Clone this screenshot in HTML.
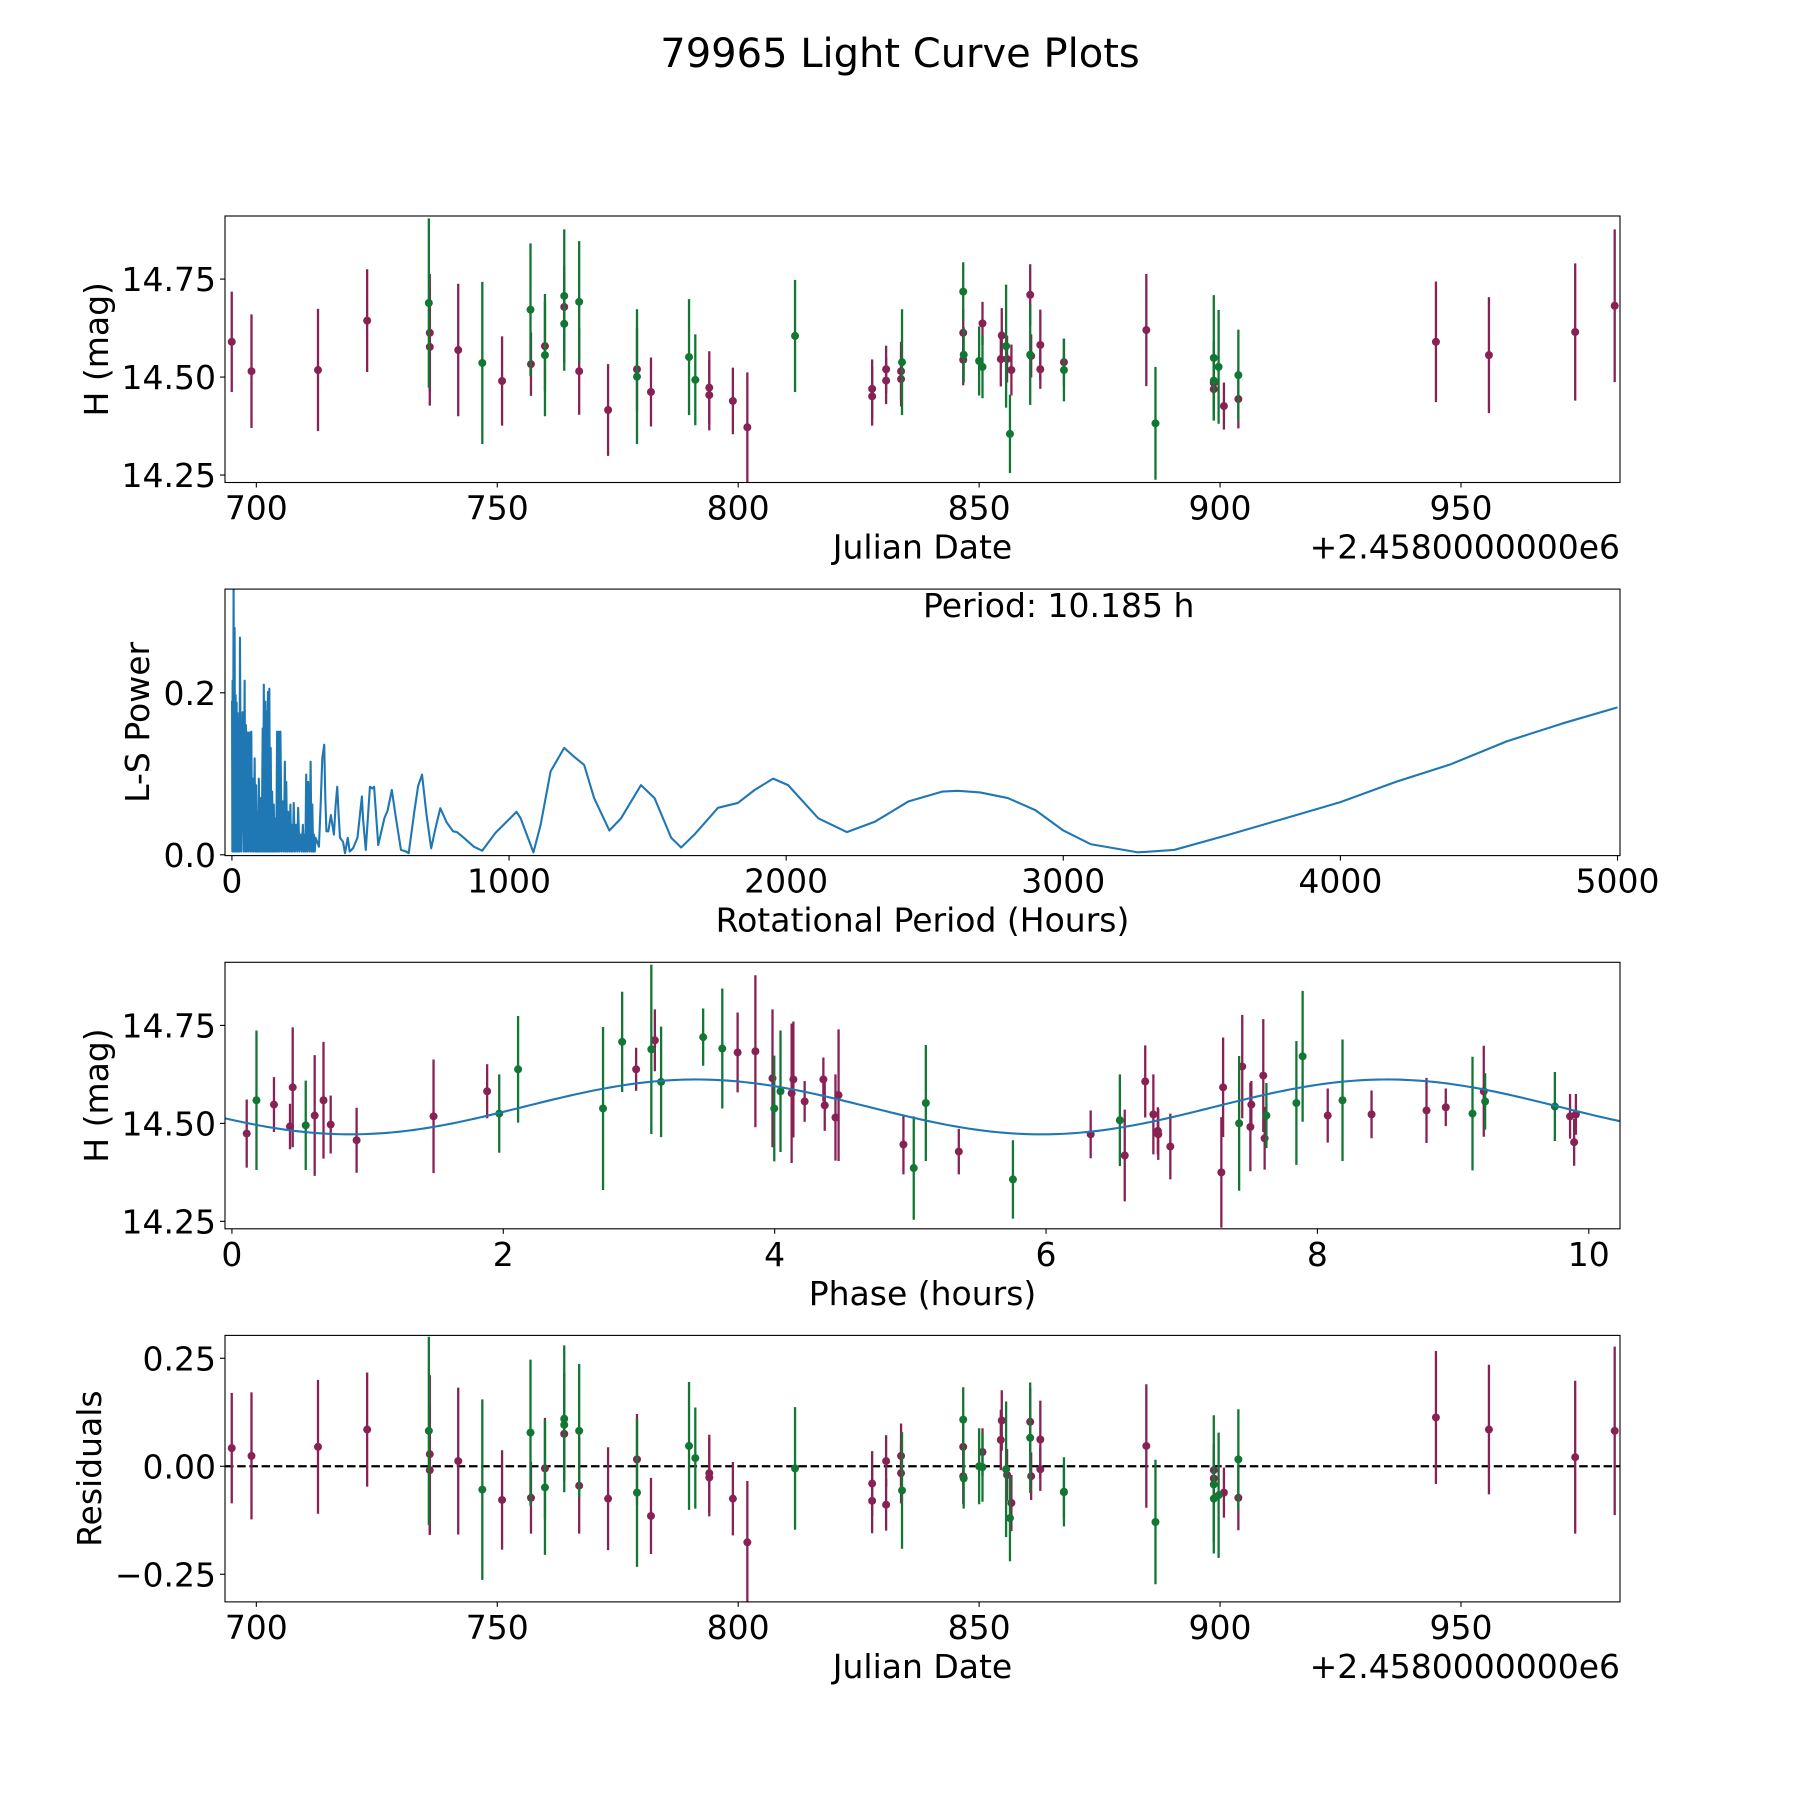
<!DOCTYPE html>
<html><head><meta charset="utf-8"><title>79965 Light Curve Plots</title>
<style>
html,body{margin:0;padding:0;background:#fff;}
svg{display:block;font-family:"DejaVu Sans","Liberation Sans",sans-serif;}
</style></head>
<body>
<svg id="fig" width="1800" height="1800" viewBox="0 0 1800 1800" xmlns="http://www.w3.org/2000/svg">
<rect width="1800" height="1800" fill="#fff"/>
<text x="900" y="67" text-anchor="middle" font-size="40">79965 Light Curve Plots</text>
</svg>
<script>
// ---------- Panel 1: light curve vs Julian Date ----------
const p1Band = ["M","M","M","M","G","M","M","M","G","M","G","M","M","G","G","M","G","G","M","M","M","G","M","G","G","M","M","M","M","G","M","M","M","M","M","M","G","G","M","G","M","G","M","G","M","M","G","M","G","M","M","G","M","M","M","M","G","M","G","G","G","M","M","G","M","G","M","M","M","M","M"];
const p1Day = [694.9,699.0,712.8,723.0,735.8,736.0,736.0,741.9,746.9,751.0,756.9,757.0,759.9,759.9,763.9,763.9,763.9,767.0,767.0,773.0,779.0,779.0,781.9,789.8,791.1,794.0,794.0,798.9,801.9,811.8,827.8,827.8,830.7,830.7,833.8,833.8,834.0,846.7,846.7,846.8,846.7,850.0,850.7,850.7,854.7,854.5,855.6,855.8,856.4,856.7,860.6,860.6,860.8,862.7,862.7,867.6,867.6,884.7,886.6,898.7,898.7,898.7,898.7,899.7,900.8,903.8,903.8,944.8,955.8,973.7,981.9];
const p1Mag = [14.590,14.515,14.518,14.644,14.689,14.613,14.577,14.569,14.536,14.490,14.672,14.533,14.579,14.556,14.707,14.679,14.636,14.692,14.515,14.416,14.520,14.501,14.462,14.551,14.493,14.473,14.454,14.439,14.372,14.605,14.470,14.451,14.520,14.491,14.515,14.495,14.538,14.718,14.613,14.557,14.544,14.541,14.637,14.526,14.606,14.546,14.579,14.546,14.355,14.518,14.710,14.557,14.554,14.582,14.520,14.538,14.518,14.620,14.382,14.549,14.491,14.485,14.469,14.526,14.426,14.505,14.444,14.590,14.556,14.615,14.682];
const p1Err = [0.128,0.145,0.156,0.131,0.216,0.15,0.15,0.169,0.207,0.114,0.169,0.081,0.115,0.156,0.17,0.105,0.12,0.155,0.111,0.117,0.105,0.172,0.088,0.148,0.116,0.093,0.09,0.085,0.14,0.143,0.075,0.075,0.06,0.06,0.075,0.07,0.135,0.075,0.06,0.07,0.065,0.088,0.055,0.08,0.07,0.07,0.157,0.06,0.1,0.065,0.078,0.128,0.055,0.09,0.05,0.06,0.08,0.143,0.144,0.16,0.1,0.06,0.06,0.145,0.06,0.116,0.075,0.154,0.148,0.175,0.195];
const jdTicks = [700,750,800,850,900,950];
const magTicks = [14.25,14.50,14.75];
const magTickLabels = ["14.25","14.50","14.75"];

// ---------- Panel 2: Lomb-Scargle periodogram ----------
const lsPeriod = [0.5,1.5,2.4,4,6,8,9.7,11.5,13.3,15,16.9,18.7,20.5,23,25.4,27.2,29,33,38.6,42,45.9,48.3,50.7,53,55.5,59,62.8,66.4,70,72.5,75,78.5,82,84.5,87,90,93,95,97,100.5,104,107.5,111,113,115,118,121,123,125,127.5,130,132.5,135,137.5,140,142.5,145,148,151,154,157,160,163,166,169,172,175,179.5,184,187.5,191,193.5,196,199.5,203,207,211,214,217,220,223,227.5,232,235.5,239,243.5,248,252,256,259,262,265,268,271.5,275,279.5,284,287,290,293,296,299,302,314,320,326,333,337,341,348,357,368,374,380,385,390,401,408,418,425,437,453,469,473,483,498,507,513,528,550,562,577,592,610,628,638,658,672,686,702,719,736,752,775,798,812,840,873,903,951,1027,1042,1088,1114,1150,1199,1235,1271,1307,1362,1404,1476,1525,1585,1621,1669,1754,1826,1886,1953,2007,2116,2219,2321,2442,2563,2620,2700,2800,2900,3000,3100,3270,3400,3600,3800,4000,4200,4400,4600,4800,5000];
const lsPower = [0.19,0.004,0.215,0.004,0.34,0.004,0.28,0.004,0.197,0.004,0.188,0.004,0.175,0.004,0.168,0.004,0.268,0.004,0.176,0.004,0.215,0.004,0.16,0.004,0.151,0.004,0.151,0.004,0.152,0.004,0.094,0.004,0.119,0.004,0.086,0.004,0.053,0.004,0.094,0.004,0.07,0.004,0.156,0.004,0.21,0.004,0.189,0.004,0.177,0.004,0.201,0.004,0.205,0.004,0.132,0.004,0.078,0.004,0.062,0.004,0.045,0.004,0.152,0.004,0.152,0.004,0.152,0.004,0.066,0.004,0.115,0.004,0.09,0.004,0.053,0.004,0.062,0.004,0.037,0.004,0.064,0.004,0.037,0.004,0.058,0.004,0.025,0.004,0.037,0.004,0.025,0.004,0.099,0.004,0.09,0.004,0.115,0.004,0.062,0.004,0.025,0.004,0.021,0.01,0.06,0.119,0.136,0.07,0.029,0.029,0.049,0.025,0.06,0.084,0.05,0.021,0.016,0.002,0.021,0.004,0.008,0.021,0.072,0.045,0.006,0.084,0.082,0.084,0.012,0.045,0.055,0.08,0.045,0.006,0.004,0.002,0.053,0.085,0.099,0.05,0.008,0.035,0.0575,0.04,0.029,0.028,0.02,0.010,0.005,0.027,0.053,0.045,0.003,0.037,0.103,0.132,0.121,0.111,0.070,0.030,0.045,0.086,0.070,0.021,0.009,0.025,0.058,0.064,0.080,0.094,0.086,0.045,0.028,0.041,0.066,0.078,0.079,0.077,0.070,0.055,0.030,0.013,0.003,0.006,0.025,0.045,0.065,0.090,0.112,0.140,0.162,0.182];
const periodTicks = [0,1000,2000,3000,4000,5000];
const powerTicks = [0.0,0.2];
const powerTickLabels = ["0.0","0.2"];
const bestPeriodLabel = "Period: 10.185 h";

// ---------- Panel 3: phased light curve ----------
const p3Band = ["M","G","M","M","M","G","M","M","M","M","M","M","G","G","G","G","M","G","M","G","G","G","M","M","M","G","G","M","M","M","M","M","M","M","M","G","G","M","G","M","G","M","M","M","M","M","M","M","M","G","M","M","M","M","M","G","G","G","M","G","M","M","M","G","M","G","G","M","M","M"];
const p3Phase = [0.109,0.181,0.310,0.428,0.448,0.544,0.610,0.675,0.728,0.919,1.486,1.881,1.970,2.109,2.735,2.876,2.979,3.091,3.117,3.163,3.473,3.614,3.727,3.858,3.984,3.997,4.043,4.125,4.138,4.221,4.359,4.369,4.448,4.471,4.949,5.025,5.114,5.357,5.756,6.329,6.544,6.580,6.731,6.791,6.824,6.827,6.916,7.292,7.305,7.423,7.446,7.506,7.513,7.601,7.611,7.624,7.845,7.891,8.076,8.185,8.399,8.804,8.946,9.143,9.226,9.236,9.750,9.862,9.892,9.905];
const p3Mag = [14.474,14.559,14.548,14.492,14.592,14.495,14.520,14.559,14.497,14.457,14.518,14.582,14.525,14.638,14.538,14.708,14.638,14.689,14.712,14.606,14.720,14.691,14.681,14.684,14.615,14.538,14.582,14.577,14.612,14.556,14.612,14.546,14.515,14.572,14.446,14.386,14.552,14.428,14.357,14.472,14.508,14.418,14.607,14.523,14.481,14.472,14.441,14.375,14.592,14.500,14.645,14.491,14.548,14.622,14.462,14.520,14.552,14.671,14.520,14.559,14.523,14.533,14.541,14.525,14.582,14.556,14.543,14.518,14.452,14.523];
const p3Err = [0.087,0.178,0.07,0.058,0.153,0.114,0.154,0.149,0.074,0.083,0.145,0.069,0.1,0.136,0.208,0.128,0.055,0.216,0.079,0.141,0.073,0.153,0.102,0.194,0.176,0.135,0.155,0.178,0.148,0.052,0.056,0.065,0.11,0.168,0.076,0.132,0.148,0.058,0.1,0.061,0.117,0.117,0.092,0.102,0.06,0.065,0.084,0.141,0.127,0.172,0.132,0.113,0.06,0.144,0.08,0.083,0.158,0.167,0.069,0.155,0.061,0.083,0.048,0.145,0.116,0.072,0.088,0.057,0.06,0.052];
const fitMean = 14.542;
const fitAmp = 0.070;
const fitPeakPhase = 3.42;
const fitPeriod = 10.185;
const phaseTicks = [0,2,4,6,8,10];

// ---------- Panel 4: residuals ----------
const p4Band = ["M","M","M","M","G","M","M","M","G","M","G","M","M","G","G","G","M","G","M","M","M","G","M","G","G","M","M","M","M","G","M","M","M","M","M","M","G","G","M","M","G","G","M","G","M","M","G","M","G","M","M","G","M","M","M","M","G","M","G","M","M","G","G","G","M","G","M","M","M","M","M"];
const p4Day = [694.9,699.0,712.8,723.0,735.8,736.0,736.0,741.9,746.9,751.0,756.9,757.0,759.9,759.9,763.9,763.9,763.9,767.0,767.0,773.0,779.0,779.0,781.9,789.8,791.1,794.0,794.0,798.9,801.9,811.8,827.8,827.8,830.7,830.7,833.8,833.8,834.0,846.7,846.7,846.7,846.8,850.0,850.7,850.7,854.7,854.5,855.6,855.8,856.4,856.7,860.6,860.6,860.8,862.7,862.7,867.6,867.6,884.7,886.6,898.7,898.7,898.7,898.7,899.7,900.8,903.8,903.8,944.8,955.8,973.7,981.9];
const p4Res = [0.042,0.024,0.045,0.085,0.082,0.028,-0.009,0.012,-0.054,-0.078,0.078,-0.073,-0.005,-0.049,0.110,0.096,0.075,0.082,-0.045,-0.075,0.016,-0.061,-0.115,0.047,0.019,-0.016,-0.026,-0.075,-0.176,-0.005,-0.040,-0.080,0.012,-0.089,0.024,-0.016,-0.056,0.108,0.045,-0.023,-0.028,0.0,0.033,-0.002,0.106,0.061,-0.007,-0.020,-0.120,-0.085,0.103,0.066,-0.023,0.062,-0.007,-0.060,-0.059,0.047,-0.129,-0.009,-0.028,-0.042,-0.075,-0.067,-0.061,0.016,-0.073,0.113,0.085,0.021,0.082];
const p4Err = [0.128,0.147,0.155,0.132,0.218,0.183,0.15,0.17,0.209,0.115,0.169,0.083,0.117,0.156,0.17,0.12,0.11,0.155,0.111,0.119,0.105,0.172,0.088,0.148,0.117,0.089,0.09,0.085,0.142,0.142,0.075,0.075,0.06,0.06,0.075,0.07,0.135,0.075,0.06,0.065,0.07,0.088,0.055,0.08,0.07,0.07,0.157,0.06,0.1,0.065,0.078,0.128,0.055,0.09,0.05,0.06,0.08,0.143,0.144,0.06,0.06,0.16,0.1,0.145,0.058,0.116,0.075,0.154,0.15,0.177,0.195];
const resTicks = [-0.25,0.0,0.25];
const resTickLabels = ["\u22120.25","0.00","0.25"];

// ---------- drawing ----------
const NS = "http://www.w3.org/2000/svg";
const svg = document.getElementById("fig");
const COLORS = {M:"#882255", G:"#117733"};
const AX_L = 225, AX_R = 1620;
const panels = [[216,482.5],[589.1,855.6],[962.3,1228.8],[1335.4,1601.9]];
const FS = 33;

function mk(tag, attrs, parent){
  const e = document.createElementNS(NS, tag);
  for (const k in attrs) e.setAttribute(k, attrs[k]);
  (parent||svg).appendChild(e);
  return e;
}
function lin(d0,d1,r0,r1){ return v => r0 + (v-d0)/(d1-d0)*(r1-r0); }

function makeAxes(idx, name, xdom, ydom){
  const [top,bot] = panels[idx];
  const g = mk("g",{});
  
  
  const clip = mk("clipPath",{id:"clip"+idx}, g);
  mk("rect",{x:AX_L,y:top,width:AX_R-AX_L,height:bot-top}, clip);
  const plot = mk("g",{"clip-path":"url(#clip"+idx+")"}, g);
  
  
  return {g, plot, top, bot, x: lin(xdom[0],xdom[1],AX_L,AX_R), y: lin(ydom[0],ydom[1],bot,top)};
}
function frame(ax){
  const r = mk("rect",{x:AX_L,y:ax.top,width:AX_R-AX_L,height:ax.bot-ax.top,fill:"none",stroke:"#000","stroke-width":1.1}, ax.g);
  
  
}
function xTicks(ax, vals, labels, name){
  vals.forEach((v,i)=>{
    const X = ax.x(v);
    mk("line",{x1:X,x2:X,y1:ax.bot,y2:ax.bot+5,stroke:"#000","stroke-width":1.1}, ax.g);
    const t = mk("text",{x:X,y:ax.bot+37,"text-anchor":"middle","font-size":FS}, ax.g);
    t.textContent = labels ? labels[i] : String(v);
    
    
  });
}
function yTicks(ax, vals, labels, name){
  vals.forEach((v,i)=>{
    const Y = ax.y(v);
    mk("line",{x1:AX_L-5,x2:AX_L,y1:Y,y2:Y,stroke:"#000","stroke-width":1.1}, ax.g);
    const t = mk("text",{x:AX_L-9,y:Y+12,"text-anchor":"end","font-size":FS}, ax.g);
    t.textContent = labels[i];
    
    
  });
}
function xLabel(ax, txt, name){
  const t = mk("text",{x:(AX_L+AX_R)/2,y:ax.bot+76,"text-anchor":"middle","font-size":FS}, ax.g);
  t.textContent = txt;
  
  
}
function yLabel(ax, txt, cx, name){
  const cy = (ax.top+ax.bot)/2;
  const t = mk("text",{x:cx,y:cy,"text-anchor":"middle","font-size":FS,transform:"rotate(-90 "+cx+" "+cy+")"}, ax.g);
  t.textContent = txt;
  
  
}
function offsetText(ax){
  const t = mk("text",{x:AX_R,y:ax.bot+76,"text-anchor":"end","font-size":FS}, ax.g);
  t.textContent = "+2.4580000000e6";
  
  
}
function errPoints(ax, xs, ys, es, bands, name){
  ["M","G"].forEach(b=>{
    xs.forEach((xv,i)=>{
      if (bands[i] !== b) return;
      const X = ax.x(xv);
      const l = mk("line",{x1:X,x2:X,y1:ax.y(ys[i]-es[i]),y2:ax.y(ys[i]+es[i]),stroke:COLORS[b],"stroke-width":2.3}, ax.plot);
      
      
      const c = mk("circle",{cx:X,cy:ax.y(ys[i]),r:4,fill:COLORS[b]}, ax.plot);
      
      
    });
  });
}

// Panel 1
const ax1 = makeAxes(0, "light-curve-panel", [693.5,983.0], [14.231,14.911]);
errPoints(ax1, p1Day, p1Mag, p1Err, p1Band, "observation");
frame(ax1);
xTicks(ax1, jdTicks, null, "julian-date");
yTicks(ax1, magTicks, magTickLabels, "magnitude");
xLabel(ax1, "Julian Date", "x-axis-title-julian-date");
offsetText(ax1);
yLabel(ax1, "H (mag)", 108, "y-axis-title-magnitude");

// Panel 2
const ax2 = makeAxes(1, "periodogram-panel", [-25,5009], [-0.001,0.328]);
const pts = lsPeriod.map((p,i)=> ax2.x(p).toFixed(2)+","+ax2.y(lsPower[i]).toFixed(2)).join(" ");
const pl = mk("polyline",{points:pts,fill:"none",stroke:"#1f77b4","stroke-width":2.1,"stroke-linejoin":"round"}, ax2.plot);


frame(ax2);
xTicks(ax2, periodTicks, null, "period");
yTicks(ax2, powerTicks, powerTickLabels, "power");
xLabel(ax2, "Rotational Period (Hours)", "x-axis-title-period");
yLabel(ax2, "L-S Power", 149, "y-axis-title-power");
const pt = mk("text",{x:923,y:617,"font-size":FS}, ax2.g);
pt.textContent = bestPeriodLabel;



// Panel 3
const ax3 = makeAxes(2, "phased-curve-panel", [-0.051,10.23], [14.231,14.911]);
errPoints(ax3, p3Phase, p3Mag, p3Err, p3Band, "phased");
const fitPts = [];
for (let k=0;k<=300;k++){
  const ph = -0.051 + k*(10.23+0.051)/300;
  const m = fitMean + fitAmp*Math.cos(4*Math.PI*(ph-fitPeakPhase)/fitPeriod);
  fitPts.push(ax3.x(ph).toFixed(2)+","+ax3.y(m).toFixed(2));
}
const fl = mk("polyline",{points:fitPts.join(" "),fill:"none",stroke:"#1f77b4","stroke-width":2.1}, ax3.plot);


frame(ax3);
xTicks(ax3, phaseTicks, null, "phase");
yTicks(ax3, magTicks, magTickLabels, "phased-magnitude");
xLabel(ax3, "Phase (hours)", "x-axis-title-phase");
yLabel(ax3, "H (mag)", 108, "y-axis-title-phased-magnitude");

// Panel 4
const ax4 = makeAxes(3, "residuals-panel", [693.5,983.0], [-0.314,0.303]);
const zl = mk("line",{x1:AX_L,x2:AX_R,y1:ax4.y(0),y2:ax4.y(0),stroke:"#000","stroke-width":2.2,"stroke-dasharray":"8.5,3.7"}, ax4.plot);


errPoints(ax4, p4Day, p4Res, p4Err, p4Band, "residual");
frame(ax4);
xTicks(ax4, jdTicks, null, "residual-date");
yTicks(ax4, resTicks, resTickLabels, "residual");
xLabel(ax4, "Julian Date", "x-axis-title-residual-date");
offsetText(ax4);
yLabel(ax4, "Residuals", 101, "y-axis-title-residuals");
</script>
</body></html>
